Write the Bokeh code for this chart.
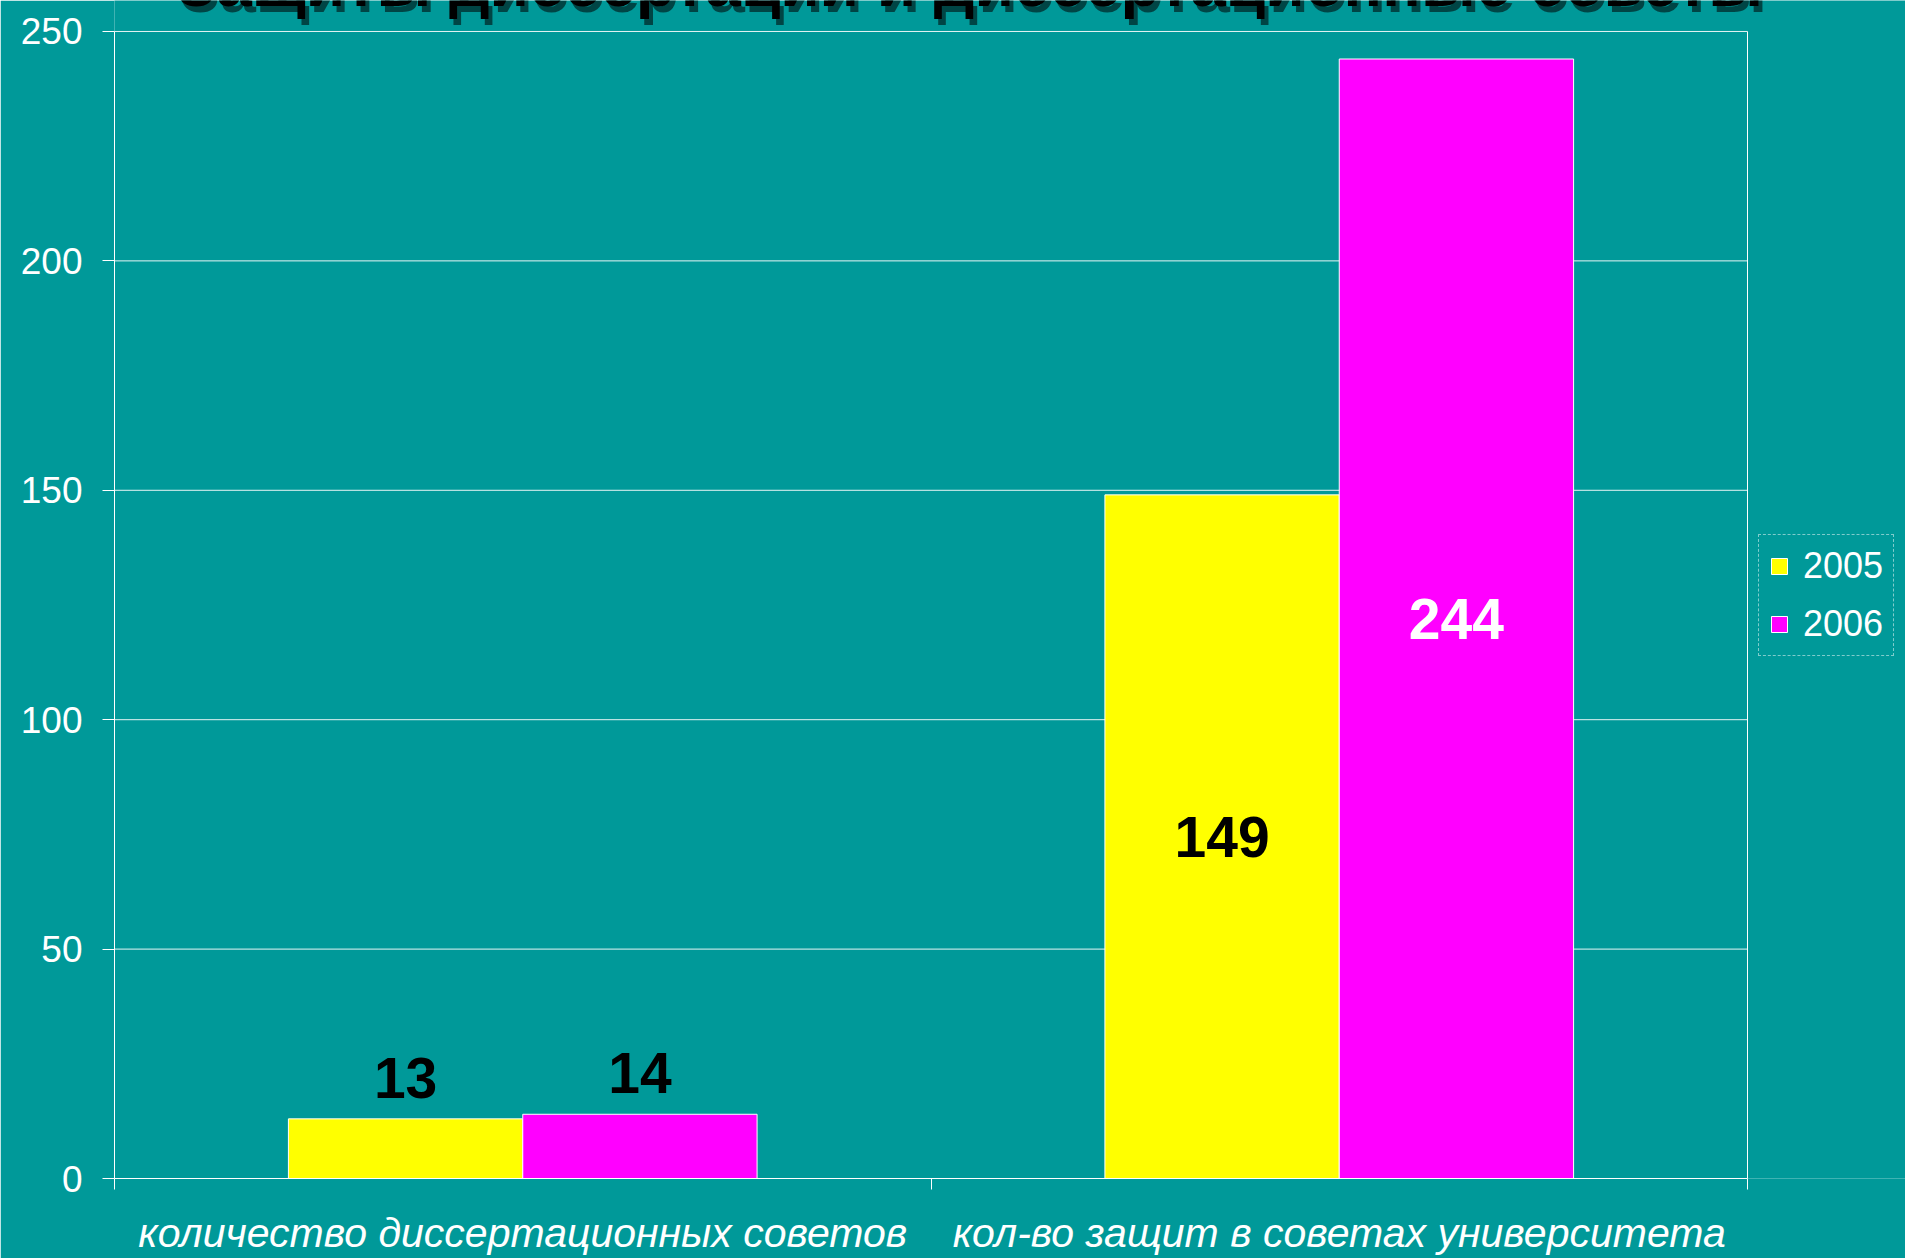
from bokeh.plotting import figure
from bokeh.models import (ColumnDataSource, Range1d, LinearAxis,
                          FixedTicker, Legend, LegendItem, LabelSet, Label)
from bokeh.core.properties import value
from bokeh.embed import file_html
from bokeh.resources import INLINE

# ---- data ----
categories = ["количество диссертационных советов", "кол-во защит в советах университета"]
years = ["2005", "2006"]
values_2005 = [13, 149]
values_2006 = [14, 244]
y_ticks = [0, 50, 100, 150, 200, 250]
title_text = "Защиты диссертаций и диссертационные советы"

# ---- style / layout ----
BG = "#009999"
FONT = "Liberation Sans"
YELLOW = "#FFFF00"
MAGENTA = "#FF00FF"
BAR_W = 0.287
OFF = BAR_W / 2
W, H = 1905, 1258
LEFT, BOTTOM = 114, 79          # canvas borders
PLOT_W, PLOT_H = 1633, 1148     # size of the 0..n x 0..250 chart area
FRAME_W, FRAME_H = W - LEFT, H - BOTTOM
Y_MAX = y_ticks[-1]

n = len(categories)
centers = [i + 0.5 for i in range(n)]
src = ColumnDataSource(dict(x05=[c - OFF for c in centers], x06=[c + OFF for c in centers],
                            v2005=values_2005, v2006=values_2006))

# the frame covers the whole canvas to the right and top so that the legend and the
# (edge-clipped) title can be drawn; the chart box itself is 0..n x 0..250
p = figure(width=W, height=H,
           x_range=Range1d(0, n * FRAME_W / PLOT_W),
           y_range=Range1d(0, Y_MAX * FRAME_H / PLOT_H),
           output_backend="svg", toolbar_location=None,
           x_axis_location=None, y_axis_location="left",
           background_fill_color=BG, border_fill_color=BG,
           min_border_left=LEFT, min_border_right=0,
           min_border_top=0, min_border_bottom=BOTTOM)
p.outline_line_color = None
p.ygrid.grid_line_color = None
for g in p.xgrid:
    g.grid_line_color = None

# grid lines and right edge of the chart box
p.segment(x0=0, x1=n, y0=y_ticks[1:], y1=y_ticks[1:], line_color="white", line_width=1,
          line_alpha=0.9)
p.segment(x0=[n], x1=[n], y0=[0], y1=[Y_MAX], line_color="white", line_width=1)

r1 = p.vbar(x="x05", top="v2005", width=BAR_W, source=src,
            fill_color=YELLOW, line_color="white", line_width=1)
r2 = p.vbar(x="x06", top="v2006", width=BAR_W, source=src,
            fill_color=MAGENTA, line_color="white", line_width=1)

# y axis
yax = p.yaxis[0]
yax.ticker = FixedTicker(ticks=y_ticks)
yax.bounds = (0, Y_MAX)
yax.axis_line_color = "white"
yax.major_tick_line_color = "white"
yax.major_tick_out = 12
yax.major_tick_in = 0
yax.minor_tick_line_color = None
yax.major_label_text_color = "white"
yax.major_label_text_font = FONT
yax.major_label_text_font_size = "37px"
yax.major_label_standoff = 20

# x axis: category labels at centres, boundary ticks as minor ticks
cat_axis = LinearAxis(ticker=FixedTicker(ticks=centers, minor_ticks=list(range(n + 1))),
                      bounds=(0, n),
                      major_label_overrides={c: lab for c, lab in zip(centers, categories)},
                      major_tick_line_color=None, major_tick_out=0, major_tick_in=0,
                      minor_tick_line_color="white", minor_tick_out=11, minor_tick_in=0,
                      axis_line_color="white",
                      major_label_text_color="white", major_label_text_font=FONT,
                      major_label_text_font_size="41px",
                      major_label_text_font_style="italic",
                      major_label_standoff=20)
p.add_layout(cat_axis, "below")

# data labels: small bars -> above the bar, tall bars -> centred inside
above = dict(x=[], y=[], t=[], c=[])
inside = dict(x=[], y=[], t=[], c=[])
for i in range(n):
    for dx, vals, col_in in ((-OFF, values_2005, "black"), (OFF, values_2006, "white")):
        v = vals[i]
        if v < 50:
            d = above
            d["y"].append(v)
            d["c"].append("black")
        else:
            d = inside
            d["y"].append(v / 2)
            d["c"].append(col_in)
        d["x"].append(centers[i] + dx)
        d["t"].append(str(v))

p.add_layout(LabelSet(x="x", y="y", text="t", source=ColumnDataSource(above),
                      y_offset=21, text_color="c", text_align="center",
                      text_baseline="alphabetic", text_font=value(FONT),
                      text_font_size="57px", text_font_style="bold"))
p.add_layout(LabelSet(x="x", y="y", text="t", source=ColumnDataSource(inside),
                      text_color="c", text_align="center",
                      text_baseline="middle", text_font=value(FONT),
                      text_font_size="57px", text_font_style="bold"))

# title, cut off by the top edge as in the reference
TITLE_X = n * (969 - LEFT) / PLOT_W
px = Y_MAX / PLOT_H
p.add_layout(Label(x=TITLE_X, y=Y_MAX + 42 * px, x_offset=4,
                   text=title_text, text_align="center", text_baseline="alphabetic",
                   text_font=FONT, text_font_size="64px", text_font_style="bold",
                   text_color="black", text_alpha=0.55))
p.add_layout(Label(x=TITLE_X, y=Y_MAX + 48 * px,
                   text=title_text, text_align="center", text_baseline="alphabetic",
                   text_font=FONT, text_font_size="64px", text_font_style="bold",
                   text_color="black"))

legend = Legend(items=[LegendItem(label=years[0], renderers=[r1]),
                       LegendItem(label=years[1], renderers=[r2])],
                location=(1644, 522), orientation="vertical",
                background_fill_color=BG, background_fill_alpha=1,
                border_line_color="white", border_line_dash="2 2", border_line_width=1,
                label_text_color="white", label_text_font=FONT, label_text_font_size="36px",
                glyph_width=20, glyph_height=20, label_standoff=14,
                padding=10, spacing=16, margin=0, title_standoff=0)
p.add_layout(legend, "center")

open("out.html", "w").write(file_html(p, INLINE))
